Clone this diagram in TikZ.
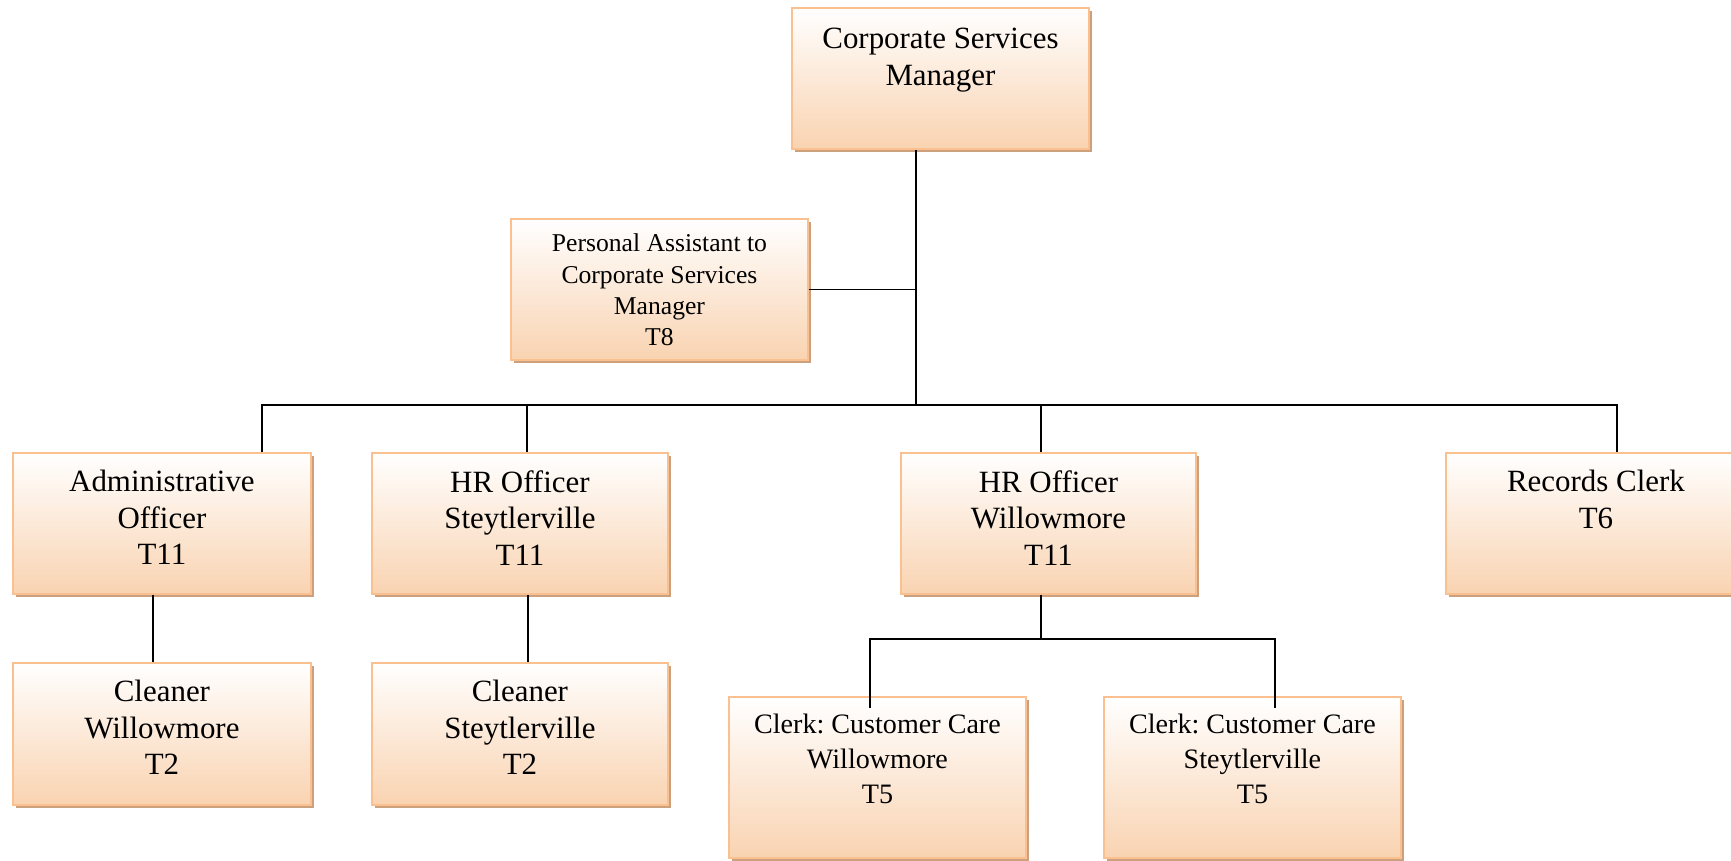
\documentclass[tikz,border=0pt]{standalone}
\usepackage{fontspec}
\setmainfont{Liberation Serif}
\frenchspacing
\usetikzlibrary{positioning, shadows}
\definecolor{PostEdge}{HTML}{FAC08F}
\definecolor{PostFill}{HTML}{F9D3B1}
\definecolor{PostShade}{HTML}{CDA07D}

\tikzset{
  post/.style={draw=PostEdge, line width=1.1pt, top color=white, bottom color=PostFill,
    drop shadow={shadow xshift=0.06cm, shadow yshift=-0.06cm, fill=PostShade, opacity=1},
    minimum width=5.94cm, minimum height=2.82cm, inner sep=0pt, anchor=north west},
  title/.style={anchor=north, align=center, inner sep=0pt, yshift=-0.36cm,
    font=\fontsize{17.6}{20.8}\selectfont},
  link/.style={line width=1pt}
}

\begin{document}
\begin{tikzpicture}[x=0.02cm, y=-0.02cm]
    \useasboundingbox (0,0) rectangle (1731,861);
    \clip (0,0) rectangle (1731,861);

    % Posts
    \node[post, label={[title, yshift=-0.06cm]north:{Corporate Services\\Manager}}] (boss) at (791,7) {};
    \node[post, label={[title, yshift=0.05cm, font=\fontsize{14.6}{17.9}\selectfont]north:{Personal Assistant to\\Corporate Services\\Manager\\T8}}] (pa) at (510,218) {};

    \node[post, minimum width=5.96cm, label={[title]north:{Administrative\\Officer\\T11}}] (admin) at (12,452) {};
    \node[post, minimum width=5.92cm, label={[title]north:{HR Officer\\Steytlerville\\T11}}] (hrs) at (371,452) {};
    \node[post, minimum width=5.9cm, label={[title]north:{HR Officer\\Willowmore\\T11}}] (hrw) at (900,452) {};
    \node[post, minimum width=6cm, label={[title]north:{Records Clerk\\T6}}] (records) at (1445,452) {};

    \node[post, minimum width=5.96cm, minimum height=2.84cm, label={[title]north:{Cleaner\\Willowmore\\T2}}] (cleanerW) at (12,662) {};
    \node[post, minimum width=5.92cm, minimum height=2.84cm, label={[title]north:{Cleaner\\Steytlerville\\T2}}] (cleanerS) at (371,662) {};

    \node[post, minimum height=3.22cm, label={[title, font=\fontsize{16}{19.7}\selectfont]north:{Clerk: Customer Care\\Willowmore\\T5}}] (clerkW) at (728,696) {};
    \node[post, minimum height=3.22cm, label={[title, font=\fontsize{16}{19.7}\selectfont]north:{Clerk: Customer Care\\Steytlerville\\T5}}] (clerkS) at (1103,696) {};

    % Lines
    \coordinate (bus) at (916,405);
    \coordinate (dropA) at (262,405);
    \coordinate (dropB) at (527,405);
    \coordinate (dropC) at (1041,405);
    \coordinate (dropD) at (1617,405);
    \coordinate (split) at (1041,639);

    \draw[link] (boss.south -| bus) -- (bus);
    \draw[link] (pa.east) -- (pa.east -| bus);
    \draw[link] (admin.north -| dropA) -- (dropA) -- (dropD) -- (records.north -| dropD);
    \draw[link] (dropB) -- (hrs.north -| dropB);
    \draw[link] (dropC) -- (hrw.north -| dropC);

    \draw[link] ([xshift=-0.18cm]admin.south) -- ([xshift=-0.18cm]cleanerW.north);
    \draw[link] ([xshift=0.16cm]hrs.south) -- ([xshift=0.16cm]cleanerS.north);

    \draw[link] (hrw.south -| split) -- (split);
    \draw[link] ([xshift=-0.15cm, yshift=-0.24cm]clerkW.north) |- (split)
        -| ([xshift=0.45cm, yshift=-0.24cm]clerkS.north);
\end{tikzpicture}
\end{document}
